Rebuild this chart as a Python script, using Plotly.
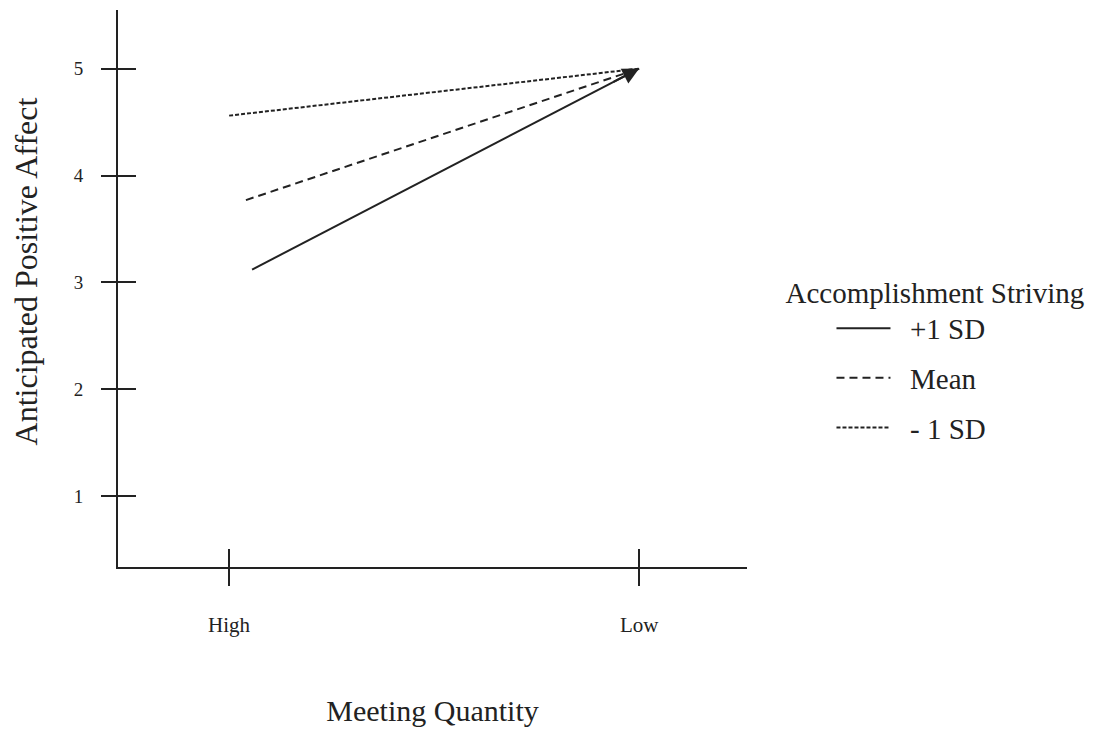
import plotly.graph_objects as go

# ---- data ----
x_categories = ["High", "Low"]
x_positions = [0, 1]
series_names = ["+1 SD", "Mean", "- 1 SD"]
series_x = [[0.056, 1.0], [0.041, 1.0], [0.0, 1.0]]
series_y = [[3.12, 5.0], [3.77, 5.0], [4.56, 5.0]]
y_ticks = [1, 2, 3, 4, 5]

dashes = ["solid", "8px,5px", "4px,2px"]
INK = "#222222"
FONT = "Liberation Serif, Times New Roman, serif"
NB = "\u00a0\u00a0"

fig = go.Figure()
for name, xs, ys, d in zip(series_names, series_x, series_y, dashes):
    fig.add_trace(go.Scatter(
        x=xs, y=ys, mode="lines", name=NB + name, legendgroup=name,
        line=dict(color=INK, width=2, dash=d), hoverinfo="skip",
    ))

# invisible trace to activate the overlay axes (inner half of crossing ticks)
fig.add_trace(go.Scatter(x=[None], y=[None], xaxis="x2", yaxis="y2",
                         showlegend=False, hoverinfo="skip"))

# arrow head at the convergence point
sx, sy = series_x[0], series_y[0]
t = 0.93
fig.add_annotation(
    x=sx[1], y=sy[1], xref="x", yref="y",
    ax=sx[0] + (sx[1] - sx[0]) * t, ay=sy[0] + (sy[1] - sy[0]) * t,
    axref="x", ayref="y", text="", showarrow=True,
    arrowhead=2, arrowsize=1.5, arrowwidth=2.2, arrowcolor=INK, standoff=0,
)

# y-axis title
fig.add_annotation(
    text="Anticipated Positive Affect", xref="paper", yref="paper",
    x=-0.146, y=0.531, xanchor="center", yanchor="middle", textangle=-90,
    showarrow=False, font=dict(size=32, family=FONT, color=INK),
)

xr = [-0.271, 1.263]
yr = [0.338, 5.548]

fig.update_layout(
    width=1099, height=733,
    paper_bgcolor="white", plot_bgcolor="white",
    margin=dict(l=110, r=360, t=2, b=174),
    font=dict(family=FONT, color=INK),
    showlegend=True,
    legend=dict(
        title=dict(text="Accomplishment Striving", font=dict(size=29, family=FONT, color=INK), side="top"),
        font=dict(size=29, family=FONT, color=INK),
        x=1.058, y=0.542, xanchor="left", yanchor="top",
        bgcolor="rgba(0,0,0,0)", borderwidth=0,
        indentation=48, itemwidth=54, tracegroupgap=9,
    ),
    xaxis=dict(
        range=xr, tickvals=x_positions, ticktext=x_categories,
        showline=True, linecolor=INK, linewidth=2,
        ticks="outside", ticklen=17, tickwidth=2, tickcolor=INK,
        tickfont=dict(size=21, family=FONT, color=INK), ticklabelstandoff=21,
        showgrid=False, zeroline=False,
        title=dict(text="Meeting Quantity", font=dict(size=30, family=FONT, color=INK), standoff=64),
    ),
    yaxis=dict(
        range=yr, tickvals=y_ticks,
        showline=True, linecolor=INK, linewidth=2,
        ticks="outside", ticklen=15, tickwidth=2, tickcolor=INK,
        tickfont=dict(size=19, family=FONT, color=INK), ticklabelstandoff=14,
        showgrid=False, zeroline=False,
    ),
    xaxis2=dict(
        overlaying="x", anchor="y2", range=xr, tickvals=x_positions,
        showticklabels=False, ticks="inside", ticklen=18, tickwidth=2, tickcolor=INK,
        showline=False, showgrid=False, zeroline=False,
    ),
    yaxis2=dict(
        overlaying="y", anchor="x2", range=yr, tickvals=y_ticks,
        showticklabels=False, ticks="inside", ticklen=18, tickwidth=2, tickcolor=INK,
        showline=False, showgrid=False, zeroline=False,
    ),
)

fig.write_html("out.html")
